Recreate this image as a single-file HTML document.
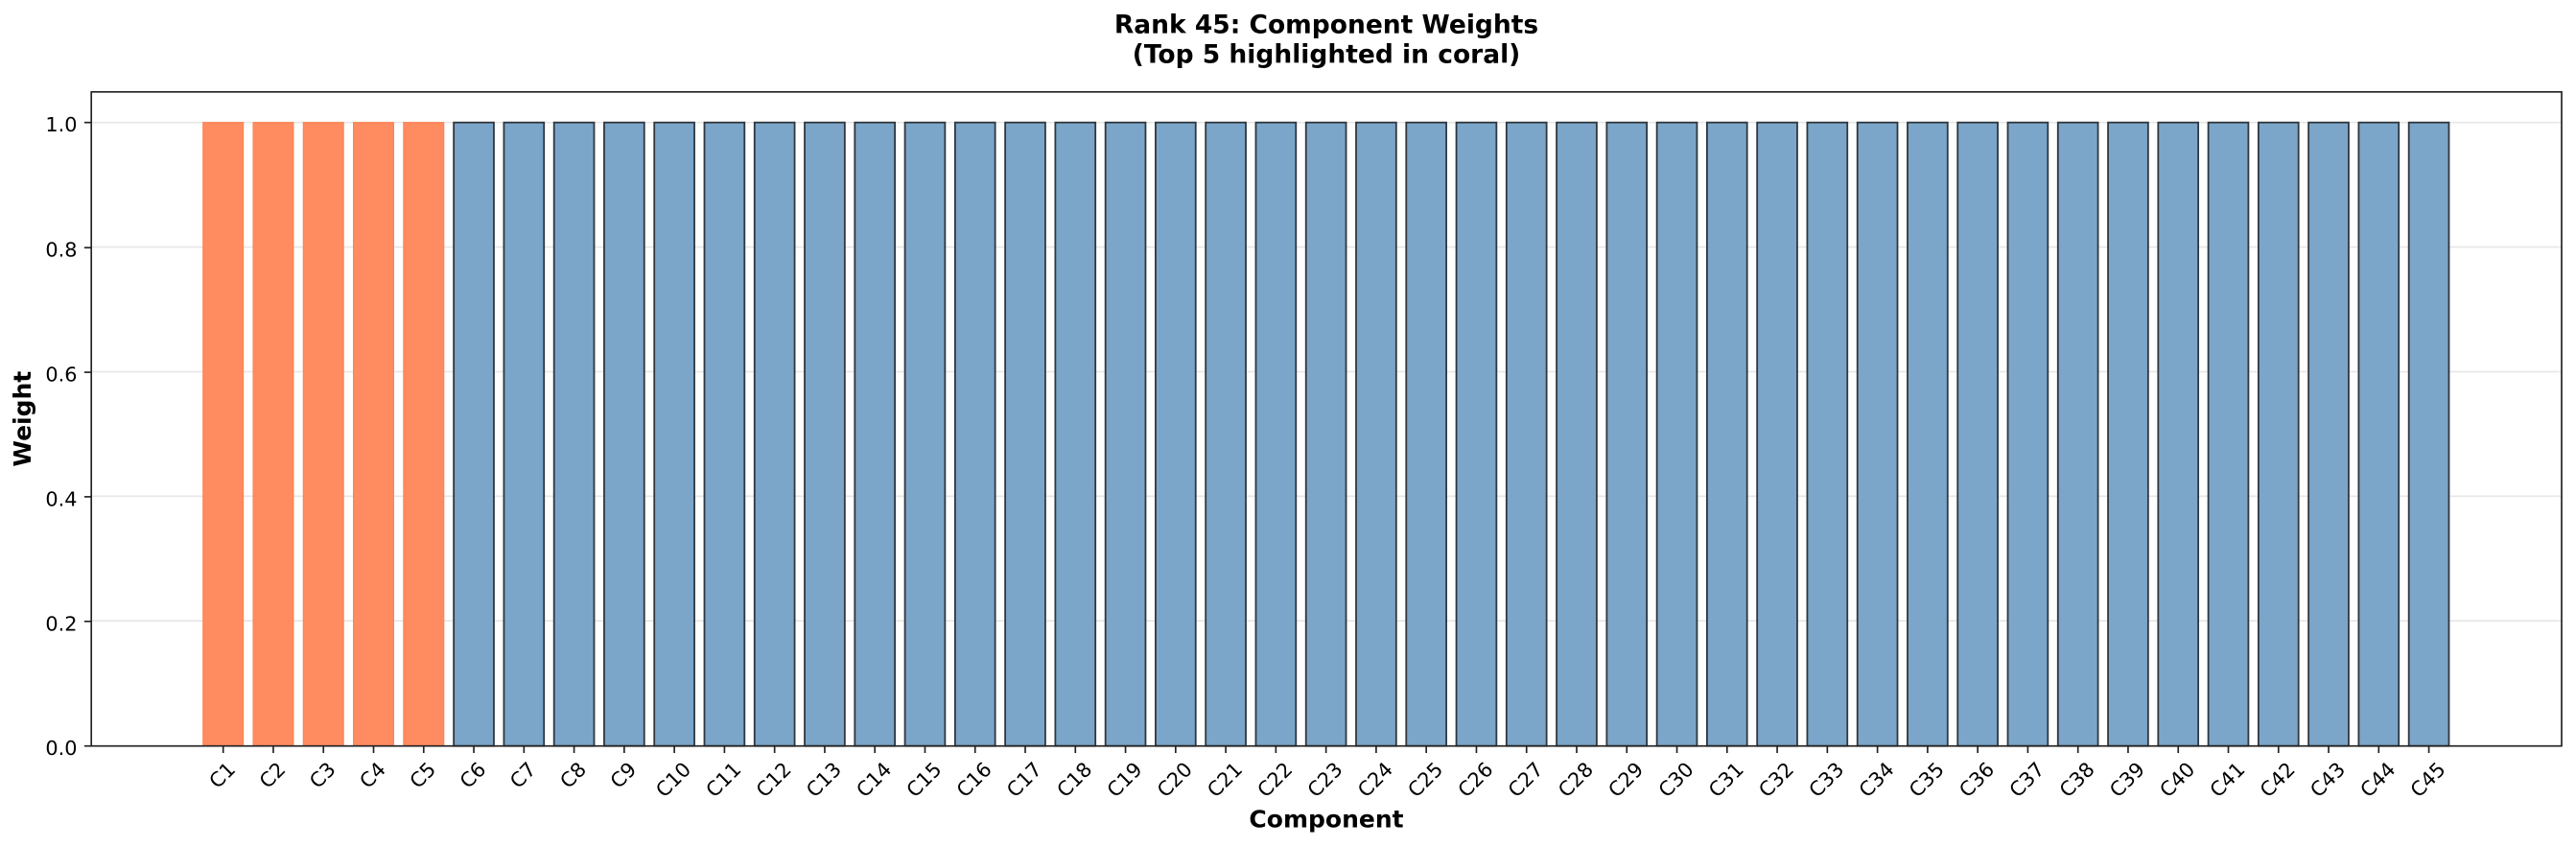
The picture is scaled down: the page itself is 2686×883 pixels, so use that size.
<!DOCTYPE html>
<html><head><meta charset="utf-8"><style>
html,body{margin:0;padding:0;background:#fff;}
svg{display:block;}
text{font-family:"DejaVu Sans","Liberation Sans",sans-serif;fill:#000;}
.tl{font-size:20.8px;}
</style></head><body>
<svg width="2686" height="883" viewBox="0 0 2686 883" xmlns="http://www.w3.org/2000/svg">
<rect width="2686" height="883" fill="#fff"/>
<g stroke="#e6e6e6" stroke-width="1.6">
<line x1="95.2" x2="2671" y1="127.7" y2="127.7"/>
<line x1="95.2" x2="2671" y1="257.6" y2="257.6"/>
<line x1="95.2" x2="2671" y1="387.5" y2="387.5"/>
<line x1="95.2" x2="2671" y1="517.3" y2="517.3"/>
<line x1="95.2" x2="2671" y1="647.2" y2="647.2"/>
</g>
<g fill="#FF8B60" stroke="#FA8555" stroke-width="1.2">
<rect x="211.8" y="127.7" width="41.8" height="650"/>
<rect x="264.07" y="127.7" width="41.8" height="650"/>
<rect x="316.34" y="127.7" width="41.8" height="650"/>
<rect x="368.61" y="127.7" width="41.8" height="650"/>
<rect x="420.88" y="127.7" width="41.8" height="650"/>
</g>
<g fill="#7BA6CA" stroke="#30363c" stroke-width="1.8">
<rect x="473.15" y="127.7" width="41.8" height="650"/>
<rect x="525.42" y="127.7" width="41.8" height="650"/>
<rect x="577.69" y="127.7" width="41.8" height="650"/>
<rect x="629.96" y="127.7" width="41.8" height="650"/>
<rect x="682.23" y="127.7" width="41.8" height="650"/>
<rect x="734.5" y="127.7" width="41.8" height="650"/>
<rect x="786.77" y="127.7" width="41.8" height="650"/>
<rect x="839.04" y="127.7" width="41.8" height="650"/>
<rect x="891.31" y="127.7" width="41.8" height="650"/>
<rect x="943.58" y="127.7" width="41.8" height="650"/>
<rect x="995.85" y="127.7" width="41.8" height="650"/>
<rect x="1048.12" y="127.7" width="41.8" height="650"/>
<rect x="1100.39" y="127.7" width="41.8" height="650"/>
<rect x="1152.66" y="127.7" width="41.8" height="650"/>
<rect x="1204.93" y="127.7" width="41.8" height="650"/>
<rect x="1257.2" y="127.7" width="41.8" height="650"/>
<rect x="1309.47" y="127.7" width="41.8" height="650"/>
<rect x="1361.74" y="127.7" width="41.8" height="650"/>
<rect x="1414.01" y="127.7" width="41.8" height="650"/>
<rect x="1466.28" y="127.7" width="41.8" height="650"/>
<rect x="1518.55" y="127.7" width="41.8" height="650"/>
<rect x="1570.82" y="127.7" width="41.8" height="650"/>
<rect x="1623.09" y="127.7" width="41.8" height="650"/>
<rect x="1675.36" y="127.7" width="41.8" height="650"/>
<rect x="1727.63" y="127.7" width="41.8" height="650"/>
<rect x="1779.9" y="127.7" width="41.8" height="650"/>
<rect x="1832.17" y="127.7" width="41.8" height="650"/>
<rect x="1884.44" y="127.7" width="41.8" height="650"/>
<rect x="1936.71" y="127.7" width="41.8" height="650"/>
<rect x="1988.98" y="127.7" width="41.8" height="650"/>
<rect x="2041.25" y="127.7" width="41.8" height="650"/>
<rect x="2093.52" y="127.7" width="41.8" height="650"/>
<rect x="2145.79" y="127.7" width="41.8" height="650"/>
<rect x="2198.06" y="127.7" width="41.8" height="650"/>
<rect x="2250.33" y="127.7" width="41.8" height="650"/>
<rect x="2302.6" y="127.7" width="41.8" height="650"/>
<rect x="2354.87" y="127.7" width="41.8" height="650"/>
<rect x="2407.14" y="127.7" width="41.8" height="650"/>
<rect x="2459.41" y="127.7" width="41.8" height="650"/>
<rect x="2511.68" y="127.7" width="41.8" height="650"/>
</g>
<rect x="95.2" y="95.8" width="2575.8" height="681.9" fill="none" stroke="#222" stroke-width="1.67"/>
<g stroke="#222" stroke-width="1.67">
<line x1="87.9" x2="95.2" y1="777.7" y2="777.7"/>
<line x1="87.9" x2="95.2" y1="647.8" y2="647.8"/>
<line x1="87.9" x2="95.2" y1="517.9" y2="517.9"/>
<line x1="87.9" x2="95.2" y1="388.1" y2="388.1"/>
<line x1="87.9" x2="95.2" y1="258.2" y2="258.2"/>
<line x1="87.9" x2="95.2" y1="127.7" y2="127.7"/>
</g>
<g class="tl" text-anchor="end">
<text x="80.5" y="787.2">0.0</text>
<text x="80.5" y="657.3">0.2</text>
<text x="80.5" y="527.4">0.4</text>
<text x="80.5" y="397.6">0.6</text>
<text x="80.5" y="267.7">0.8</text>
<text x="80.5" y="137.2">1.0</text>
</g>
<g stroke="#222" stroke-width="1.67">
<line x1="232.7" x2="232.7" y1="777.7" y2="785"/>
<line x1="284.97" x2="284.97" y1="777.7" y2="785"/>
<line x1="337.24" x2="337.24" y1="777.7" y2="785"/>
<line x1="389.51" x2="389.51" y1="777.7" y2="785"/>
<line x1="441.78" x2="441.78" y1="777.7" y2="785"/>
<line x1="494.05" x2="494.05" y1="777.7" y2="785"/>
<line x1="546.32" x2="546.32" y1="777.7" y2="785"/>
<line x1="598.59" x2="598.59" y1="777.7" y2="785"/>
<line x1="650.86" x2="650.86" y1="777.7" y2="785"/>
<line x1="703.13" x2="703.13" y1="777.7" y2="785"/>
<line x1="755.4" x2="755.4" y1="777.7" y2="785"/>
<line x1="807.67" x2="807.67" y1="777.7" y2="785"/>
<line x1="859.94" x2="859.94" y1="777.7" y2="785"/>
<line x1="912.21" x2="912.21" y1="777.7" y2="785"/>
<line x1="964.48" x2="964.48" y1="777.7" y2="785"/>
<line x1="1016.75" x2="1016.75" y1="777.7" y2="785"/>
<line x1="1069.02" x2="1069.02" y1="777.7" y2="785"/>
<line x1="1121.29" x2="1121.29" y1="777.7" y2="785"/>
<line x1="1173.56" x2="1173.56" y1="777.7" y2="785"/>
<line x1="1225.83" x2="1225.83" y1="777.7" y2="785"/>
<line x1="1278.1" x2="1278.1" y1="777.7" y2="785"/>
<line x1="1330.37" x2="1330.37" y1="777.7" y2="785"/>
<line x1="1382.64" x2="1382.64" y1="777.7" y2="785"/>
<line x1="1434.91" x2="1434.91" y1="777.7" y2="785"/>
<line x1="1487.18" x2="1487.18" y1="777.7" y2="785"/>
<line x1="1539.45" x2="1539.45" y1="777.7" y2="785"/>
<line x1="1591.72" x2="1591.72" y1="777.7" y2="785"/>
<line x1="1643.99" x2="1643.99" y1="777.7" y2="785"/>
<line x1="1696.26" x2="1696.26" y1="777.7" y2="785"/>
<line x1="1748.53" x2="1748.53" y1="777.7" y2="785"/>
<line x1="1800.8" x2="1800.8" y1="777.7" y2="785"/>
<line x1="1853.07" x2="1853.07" y1="777.7" y2="785"/>
<line x1="1905.34" x2="1905.34" y1="777.7" y2="785"/>
<line x1="1957.61" x2="1957.61" y1="777.7" y2="785"/>
<line x1="2009.88" x2="2009.88" y1="777.7" y2="785"/>
<line x1="2062.15" x2="2062.15" y1="777.7" y2="785"/>
<line x1="2114.42" x2="2114.42" y1="777.7" y2="785"/>
<line x1="2166.69" x2="2166.69" y1="777.7" y2="785"/>
<line x1="2218.96" x2="2218.96" y1="777.7" y2="785"/>
<line x1="2271.23" x2="2271.23" y1="777.7" y2="785"/>
<line x1="2323.5" x2="2323.5" y1="777.7" y2="785"/>
<line x1="2375.77" x2="2375.77" y1="777.7" y2="785"/>
<line x1="2428.04" x2="2428.04" y1="777.7" y2="785"/>
<line x1="2480.31" x2="2480.31" y1="777.7" y2="785"/>
<line x1="2532.58" x2="2532.58" y1="777.7" y2="785"/>
</g>
<g class="tl" text-anchor="middle">
<text transform="translate(232.7,809.2) rotate(-45)" y="5.7">C1</text>
<text transform="translate(284.97,809.2) rotate(-45)" y="5.7">C2</text>
<text transform="translate(337.24,809.2) rotate(-45)" y="5.7">C3</text>
<text transform="translate(389.51,809.2) rotate(-45)" y="5.7">C4</text>
<text transform="translate(441.78,809.2) rotate(-45)" y="5.7">C5</text>
<text transform="translate(494.05,809.2) rotate(-45)" y="5.7">C6</text>
<text transform="translate(546.32,809.2) rotate(-45)" y="5.7">C7</text>
<text transform="translate(598.59,809.2) rotate(-45)" y="5.7">C8</text>
<text transform="translate(650.86,809.2) rotate(-45)" y="5.7">C9</text>
<text transform="translate(703.13,813.9) rotate(-45)" y="5.7">C10</text>
<text transform="translate(755.4,813.9) rotate(-45)" y="5.7">C11</text>
<text transform="translate(807.67,813.9) rotate(-45)" y="5.7">C12</text>
<text transform="translate(859.94,813.9) rotate(-45)" y="5.7">C13</text>
<text transform="translate(912.21,813.9) rotate(-45)" y="5.7">C14</text>
<text transform="translate(964.48,813.9) rotate(-45)" y="5.7">C15</text>
<text transform="translate(1016.75,813.9) rotate(-45)" y="5.7">C16</text>
<text transform="translate(1069.02,813.9) rotate(-45)" y="5.7">C17</text>
<text transform="translate(1121.29,813.9) rotate(-45)" y="5.7">C18</text>
<text transform="translate(1173.56,813.9) rotate(-45)" y="5.7">C19</text>
<text transform="translate(1225.83,813.9) rotate(-45)" y="5.7">C20</text>
<text transform="translate(1278.1,813.9) rotate(-45)" y="5.7">C21</text>
<text transform="translate(1330.37,813.9) rotate(-45)" y="5.7">C22</text>
<text transform="translate(1382.64,813.9) rotate(-45)" y="5.7">C23</text>
<text transform="translate(1434.91,813.9) rotate(-45)" y="5.7">C24</text>
<text transform="translate(1487.18,813.9) rotate(-45)" y="5.7">C25</text>
<text transform="translate(1539.45,813.9) rotate(-45)" y="5.7">C26</text>
<text transform="translate(1591.72,813.9) rotate(-45)" y="5.7">C27</text>
<text transform="translate(1643.99,813.9) rotate(-45)" y="5.7">C28</text>
<text transform="translate(1696.26,813.9) rotate(-45)" y="5.7">C29</text>
<text transform="translate(1748.53,813.9) rotate(-45)" y="5.7">C30</text>
<text transform="translate(1800.8,813.9) rotate(-45)" y="5.7">C31</text>
<text transform="translate(1853.07,813.9) rotate(-45)" y="5.7">C32</text>
<text transform="translate(1905.34,813.9) rotate(-45)" y="5.7">C33</text>
<text transform="translate(1957.61,813.9) rotate(-45)" y="5.7">C34</text>
<text transform="translate(2009.88,813.9) rotate(-45)" y="5.7">C35</text>
<text transform="translate(2062.15,813.9) rotate(-45)" y="5.7">C36</text>
<text transform="translate(2114.42,813.9) rotate(-45)" y="5.7">C37</text>
<text transform="translate(2166.69,813.9) rotate(-45)" y="5.7">C38</text>
<text transform="translate(2218.96,813.9) rotate(-45)" y="5.7">C39</text>
<text transform="translate(2271.23,813.9) rotate(-45)" y="5.7">C40</text>
<text transform="translate(2323.5,813.9) rotate(-45)" y="5.7">C41</text>
<text transform="translate(2375.77,813.9) rotate(-45)" y="5.7">C42</text>
<text transform="translate(2428.04,813.9) rotate(-45)" y="5.7">C43</text>
<text transform="translate(2480.31,813.9) rotate(-45)" y="5.7">C44</text>
<text transform="translate(2532.58,813.9) rotate(-45)" y="5.7">C45</text>
</g>
<text x="1383" y="862.7" text-anchor="middle" font-weight="bold" font-size="25">Component</text>
<text transform="translate(32,436.7) rotate(-90)" text-anchor="middle" font-weight="bold" font-size="25">Weight</text>
<text x="1383" y="34.5" text-anchor="middle" font-weight="bold" font-size="26.5">Rank 45: Component Weights</text>
<text x="1383" y="65.5" text-anchor="middle" font-weight="bold" font-size="26.5">(Top 5 highlighted in coral)</text>
</svg>
</body></html>
